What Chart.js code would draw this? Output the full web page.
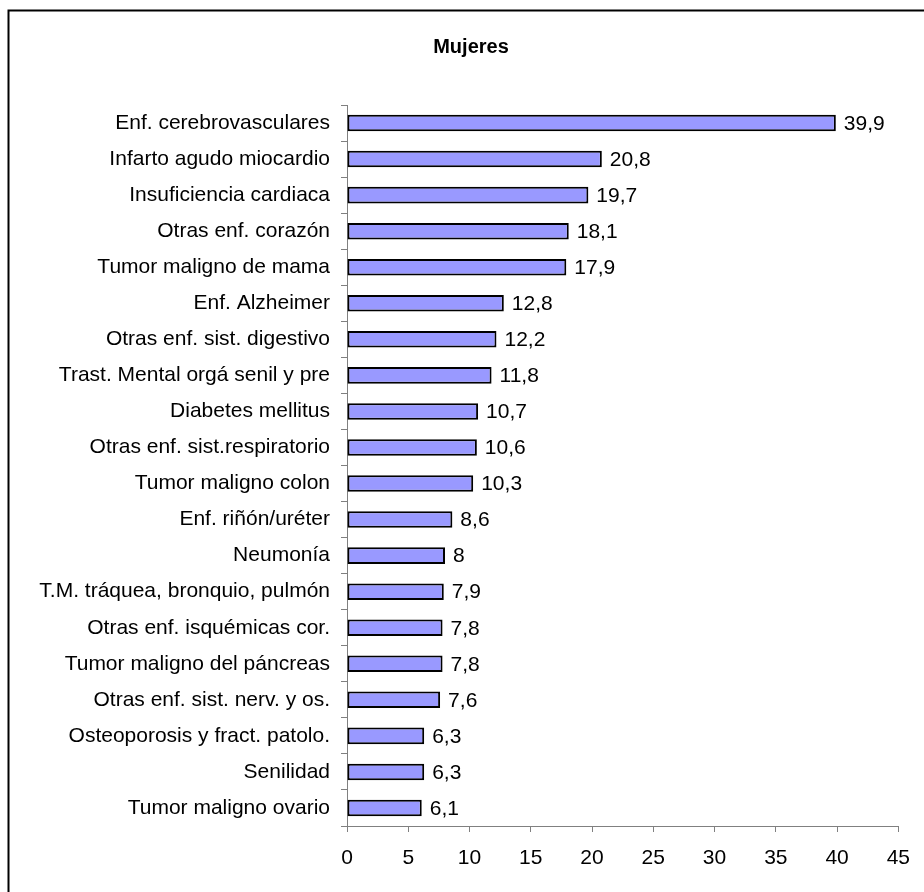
<!DOCTYPE html>
<html>
<head>
<meta charset="utf-8">
<script src="https://cdn.jsdelivr.net/npm/chart.js@4"></script>
<style>
    html, body { margin: 0; padding: 0; background: #fff; }
    canvas { display: block; }
</style>
</head>
<body>
<canvas id="chart" width="924" height="892"></canvas>
<script>
const titleText = "Mujeres";

const categories = [
    "Enf. cerebrovasculares",
    "Infarto agudo miocardio",
    "Insuficiencia cardiaca",
    "Otras enf. corazón",
    "Tumor maligno de mama",
    "Enf. Alzheimer",
    "Otras enf. sist. digestivo",
    "Trast. Mental orgá senil y pre",
    "Diabetes mellitus",
    "Otras enf. sist.respiratorio",
    "Tumor maligno colon",
    "Enf. riñón/uréter",
    "Neumonía",
    "T.M. tráquea, bronquio, pulmón",
    "Otras enf. isquémicas cor.",
    "Tumor maligno del páncreas",
    "Otras enf. sist. nerv. y os.",
    "Osteoporosis y fract. patolo.",
    "Senilidad",
    "Tumor maligno ovario"
];

const values = [39.9, 20.8, 19.7, 18.1, 17.9, 12.8, 12.2, 11.8, 10.7, 10.6, 10.3, 8.6, 8, 7.9, 7.8, 7.8, 7.6, 6.3, 6.3, 6.1];

const axisMin = 0;
const axisMax = 45;
const axisStep = 5;

const fontFamily = '"Liberation Sans", Arial, sans-serif';
const axisColor = "#808080";

function formatValue(v) {
    return String(v).replace(".", ",");
}

// frame, title and the value labels next to each bar
const decorations = {
    id: "decorations",
    beforeDraw(chart) {
        const ctx = chart.ctx;
        ctx.save();
        ctx.strokeStyle = "#000";
        ctx.lineWidth = 2;
        ctx.beginPath();
        ctx.moveTo(8.5, chart.height);
        ctx.lineTo(8.5, 10.5);
        ctx.lineTo(chart.width, 10.5);
        ctx.stroke();

        ctx.fillStyle = "#000";
        ctx.font = "bold 20px " + fontFamily;
        ctx.textAlign = "center";
        ctx.textBaseline = "middle";
        ctx.fillText(titleText, chart.width / 2 + 9, 47);
        ctx.restore();
    },
    afterDatasetsDraw(chart) {
        const ctx = chart.ctx;
        const meta = chart.getDatasetMeta(0);
        ctx.save();
        ctx.fillStyle = "#000";
        ctx.font = "21px " + fontFamily;
        ctx.textAlign = "left";
        ctx.textBaseline = "middle";
        meta.data.forEach((bar, i) => {
            ctx.fillText(formatValue(values[i]), bar.x + 8, bar.y + 1);
        });
        ctx.restore();
    }
};

new Chart(document.getElementById("chart"), {
    type: "bar",
    data: {
        labels: categories,
        datasets: [{
            data: values,
            backgroundColor: "#9999ff",
            borderColor: "#000",
            borderWidth: 2,
            borderSkipped: false,
            barPercentage: 0.46,
            categoryPercentage: 1
        }]
    },
    options: {
        indexAxis: "y",
        responsive: false,
        devicePixelRatio: 1,
        animation: false,
        layout: {
            padding: { top: 105, right: 24, bottom: 0, left: 0 }
        },
        plugins: {
            legend: { display: false },
            title: { display: false },
            tooltip: { enabled: false }
        },
        scales: {
            x: {
                min: axisMin,
                max: axisMax,
                ticks: {
                    stepSize: axisStep,
                    color: "#000",
                    padding: 14,
                    font: { family: fontFamily, size: 21 }
                },
                grid: {
                    drawOnChartArea: false,
                    drawTicks: true,
                    tickLength: 6,
                    color: axisColor
                },
                border: { display: true, color: axisColor, width: 1 },
                afterFit(scale) {
                    scale.height = 66;
                }
            },
            y: {
                ticks: {
                    color: "#000",
                    padding: 11,
                    autoSkip: false,
                    font: { family: fontFamily, size: 21 }
                },
                grid: {
                    offset: true,
                    drawOnChartArea: false,
                    drawTicks: true,
                    tickLength: 6,
                    color: axisColor
                },
                border: { display: true, color: axisColor, width: 1 },
                afterFit(scale) {
                    scale.width = 347;
                }
            }
        }
    },
    plugins: [decorations]
});
</script>
</body>
</html>
